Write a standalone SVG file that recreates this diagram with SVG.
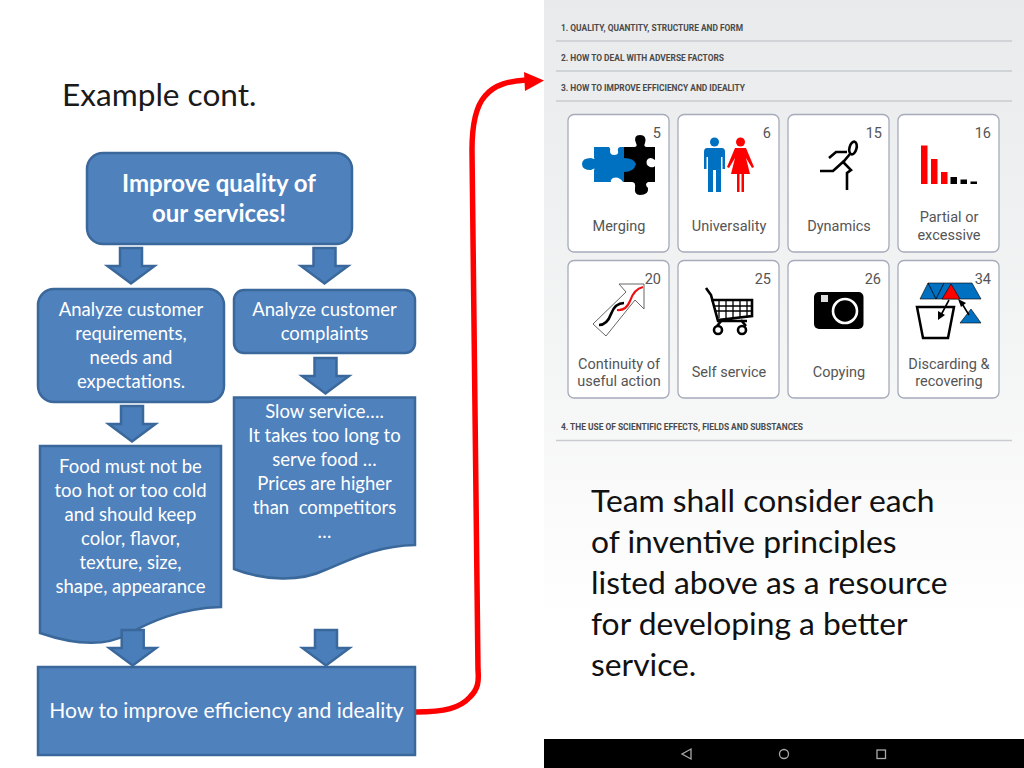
<svg xmlns="http://www.w3.org/2000/svg" width="1024" height="768" viewBox="0 0 1024 768">
<defs>
<linearGradient id="bg" x1="0" y1="0" x2="0" y2="1"><stop offset="0" stop-color="#e9eaeb"/><stop offset="0.5" stop-color="#f4f5f5"/><stop offset="0.85" stop-color="#ffffff"/></linearGradient>
<path id="dn" d="M-11 0H11V18H23.500L0 35.500L-23.500 18H-11Z"/>
</defs>
<style>
.f{font-family:Lato,"Open Sans",sans-serif}
.w{fill:#fff;text-anchor:middle;font-size:18.500px}
.b{fill:#4f81bd;stroke:#3b689b;stroke-width:2.500}
.a{fill:#4a7ebb;stroke:#3b689b;stroke-width:2.500}
.h{font-family:Roboto,sans-serif;font-size:8.400px;font-weight:700;fill:#4a4a4a}
.l{stroke:#c9cbce;stroke-width:1.500}
.c{fill:#fff;stroke:#a6abbb;stroke-width:1.300}
.t{font-family:Roboto,sans-serif;font-size:14.500px;fill:#555;text-anchor:middle}
.n{font-family:Roboto,sans-serif;font-size:14.500px;fill:#555;text-anchor:end}
</style>
<rect width="1024" height="768" fill="#fff"/>
<rect x="544" y="0" width="480" height="740" fill="url(#bg)"/>
<rect x="544" y="739" width="480" height="29" fill="#000"/>
<g fill="none" stroke="#aaa" stroke-width="1.300"><path d="M691 749V759L682 754Z"/><circle cx="784" cy="754" r="4.500"/><rect x="877" y="750" width="8.500" height="8.500"/></g>
<text class="f" x="62" y="106" font-size="31.600" fill="#1a1a1a">Example cont.</text>
<g class="h"><text x="561" y="30.500">1. QUALITY, QUANTITY, STRUCTURE AND FORM</text><text x="561" y="60.500">2. HOW TO DEAL WITH ADVERSE FACTORS</text><text x="561" y="90.500">3. HOW TO IMPROVE EFFICIENCY AND IDEALITY</text><text x="561" y="429.500">4. THE USE OF SCIENTIFIC EFFECTS, FIELDS AND SUBSTANCES</text></g>
<g class="l"><path d="M556 41H1012M556 71H1012M556 101H1012M556 440.500H1012"/></g>

<g id="card5"><rect class="c" x="568" y="114.500" width="101" height="137.500" rx="6"/><text class="n" x="661" y="138">5</text><text class="t" x="619" y="231">Merging</text>
<path fill="#0070c0" d="M594 147H609Q611 149 610 151Q610 155 614 155Q619 155 618 151Q617 148 620 147H636V158Q640 156 645 158Q637 164 636 170V182H623Q619 176 613 178Q610 180 611 182H594V170Q596 167 591 170Q582 170 582 164Q582 158 591 158Q596 160 594 158Z"/>
<path d="M624 147H634Q638 147 636 143Q633 135 640 135Q647 135 645 143Q643 147 647 147H655V160Q650 156 647 160Q645 165 650 167Q654 168 655 166V182H648Q644 184 648 188Q649 195 640 195Q634 195 635 188Q636 182 632 182H624V172Q634 172 636 164Q634 158 624 158Z"/></g>

<g id="card6"><rect class="c" x="678" y="114.500" width="101" height="137.500" rx="6"/><text class="n" x="771" y="138">6</text><text class="t" x="729" y="231">Universality</text>
<circle cx="714.500" cy="142" r="4.500" fill="#0070c0"/><path fill="#0070c0" d="M707 148H722Q725 148 725 152V169H722.500V157H721V192H716V170H713V192H708V157H706.500V169H704V152Q704 148 707 148Z"/>
<circle cx="740.500" cy="142" r="4.500" fill="#f00"/><path fill="#f00" d="M735 148H746L754 167L752 168L746 158L750 174H744V192H741.500V174H739.500V192H737V174H731L735 158L729 168L727 167Z"/></g>

<g id="card15"><rect class="c" x="788" y="114.500" width="101" height="137.500" rx="6"/><text class="n" x="882" y="138">15</text><text class="t" x="839" y="231">Dynamics</text>
<g fill="none" stroke="#000" stroke-width="2.600"><ellipse cx="853" cy="148" rx="3.500" ry="6.500" transform="rotate(15 853 148)"/><path d="M850 154L844 161L833 171H820M829 158L836 152H847M844 160L844 163L851 170L847 173V190"/></g></g>

<g id="card16"><rect class="c" x="898" y="114.500" width="101" height="137.500" rx="6"/><text class="n" x="991" y="138">16</text><text class="t" x="949" y="222">Partial or</text><text class="t" x="949" y="240">excessive</text>
<path fill="#f00" d="M921 145.500H927.500V184H921ZM931 159H937.500V184H931ZM941 172H947.500V184H941Z"/><path d="M950.500 177H957V184H950.500ZM960.500 179.500H967V184H960.500ZM970.500 181.500H977V184H970.500Z"/></g>

<g id="card20"><rect class="c" x="568" y="260.500" width="101" height="137.500" rx="6"/><text class="t" x="619" y="369">Continuity of</text><text class="t" x="619" y="386">useful action</text>
<path fill="#fff" stroke="#666" stroke-width="1" d="M593 324L606 336L635 300L644 309V284H619L626 292Z"/>
<path fill="none" stroke="#000" stroke-width="2.600" d="M599 325Q607 325 611 314Q615 303 624 303"/><path fill="none" stroke="#e11" stroke-width="2.200" d="M617 310Q626 311 630 301Q634 289 643 287"/><text class="n" x="661" y="284">20</text></g>

<g id="card25"><rect class="c" x="678" y="260.500" width="101" height="137.500" rx="6"/><text class="n" x="771" y="284">25</text><text class="t" x="729" y="377">Self service</text>
<g fill="none" stroke="#000" stroke-width="1.300"><path stroke-width="2.600" d="M706 288L711 295L718 321H747M711 300H752V316L718 320"/><path d="M713 306H751M715 311H751M719 300V318M726 300V318M733 300V317M740 300V317M747 300V316"/><path stroke-width="2.600" d="M722 320L717 326M741 320L746 326"/><circle cx="718" cy="330" r="4" stroke-width="2.600"/><circle cx="742" cy="330" r="4" stroke-width="2.600"/></g></g>

<g id="card26"><rect class="c" x="788" y="260.500" width="101" height="137.500" rx="6"/><text class="n" x="881" y="284">26</text><text class="t" x="839" y="377">Copying</text>
<rect x="814" y="292" width="49.500" height="37" rx="5"/><rect x="821" y="295" width="7" height="7" fill="#ddd"/><circle cx="845" cy="311" r="12" fill="#000" stroke="#fff" stroke-width="2.600"/></g>

<g id="card34"><rect class="c" x="898" y="260.500" width="101" height="137.500" rx="6"/><text class="t" x="949" y="369">Discarding &amp;</text><text class="t" x="949" y="386">recovering</text>
<path fill="#0070c0" stroke="#000" stroke-width="0.600" d="M920 299L928 283H972L981 299ZM960 323L971 309L981 323Z"/><path fill="none" stroke="#000" stroke-width="0.800" d="M928 283L936 299L944 283"/><path fill="#f00" stroke="#000" stroke-width="0.600" d="M951 284L960 299H942Z"/>
<path fill="none" stroke="#000" stroke-width="2.500" d="M917 307H954L948 338H923Z"/>
<path fill="none" stroke="#000" stroke-width="1.600" d="M949 300L941 315M961 302L969 315"/><path d="M938 320L938 311L945 315ZM958 299L966 303L961 307Z"/><text class="n" x="991" y="284">34</text></g>

<text class="f" font-size="31.800" fill="#111"><tspan x="591" y="512">Team shall consider each</tspan><tspan x="591" y="553">of inventive principles</tspan><tspan x="591" y="594">listed above as a resource</tspan><tspan x="591" y="635">for developing a better</tspan><tspan x="591" y="676">service.</tspan></text>

<g id="connectors">
<use href="#dn" class="a" x="131" y="248"/><use href="#dn" class="a" x="324.500" y="248"/><use href="#dn" class="a" x="132" y="406"/><use href="#dn" class="a" x="325.500" y="358"/>
<path fill="none" stroke="#f00" stroke-width="5.500" d="M416 712C445 712 460 708 470 697C478 689 479 682 478 670L472 150C472 120 477 105 485 96C495 84 510 81 526 80"/>
<path fill="#f00" d="M524 72L544 80.500L525 91Z"/>
</g>

<g id="n-top"><rect class="b" x="87" y="153" width="265" height="91" rx="16"/><text class="f w" font-weight="700" x="219" y="192" style="font-size:24px">Improve quality of</text><text class="f w" font-weight="700" x="219" y="222" style="font-size:24px">our services!</text></g>
<g id="n-req"><rect class="b" x="38" y="289" width="186" height="113" rx="16"/><text class="f w" x="131" y="316">Analyze customer</text><text class="f w" x="131" y="340">requirements,</text><text class="f w" x="131" y="364">needs and</text><text class="f w" x="131" y="388">expectations.</text></g>
<g id="n-comp"><rect class="b" x="234" y="290" width="181" height="63" rx="10"/><text class="f w" x="324.500" y="316">Analyze customer</text><text class="f w" x="324.500" y="340">complaints</text></g>
<g id="n-slow"><path class="b" d="M234 397.500H415V545C375 546 350 560 325 570C300 582 265 581 234 569Z"/><text class="f w" x="324.500" y="418">Slow service….</text><text class="f w" x="324.500" y="442">It takes too long to</text><text class="f w" x="324.500" y="466">serve food …</text><text class="f w" x="324.500" y="490">Prices are higher</text><text class="f w" x="324.500" y="514" xml:space="preserve">than  competitors</text><text class="f w" x="324.500" y="538">…</text></g>
<g id="n-food"><path class="b" d="M40 446H221V607C180 608 150 622 128 634C105 647 75 645 40 633Z"/><text class="f w" x="130.500" y="473">Food must not be</text><text class="f w" x="130.500" y="497">too hot or too cold</text><text class="f w" x="130.500" y="521">and should keep</text><text class="f w" x="130.500" y="545">color, flavor,</text><text class="f w" x="130.500" y="569">texture, size,</text><text class="f w" x="130.500" y="593">shape, appearance</text></g>
<use href="#dn" class="a" x="132.700" y="630"/><use href="#dn" class="a" x="326" y="630"/>
<g id="n-how"><rect class="b" x="38" y="667" width="377" height="88"/><text class="f w" x="226.500" y="718" style="font-size:21.100px">How to improve efficiency and ideality</text></g>
</svg>
